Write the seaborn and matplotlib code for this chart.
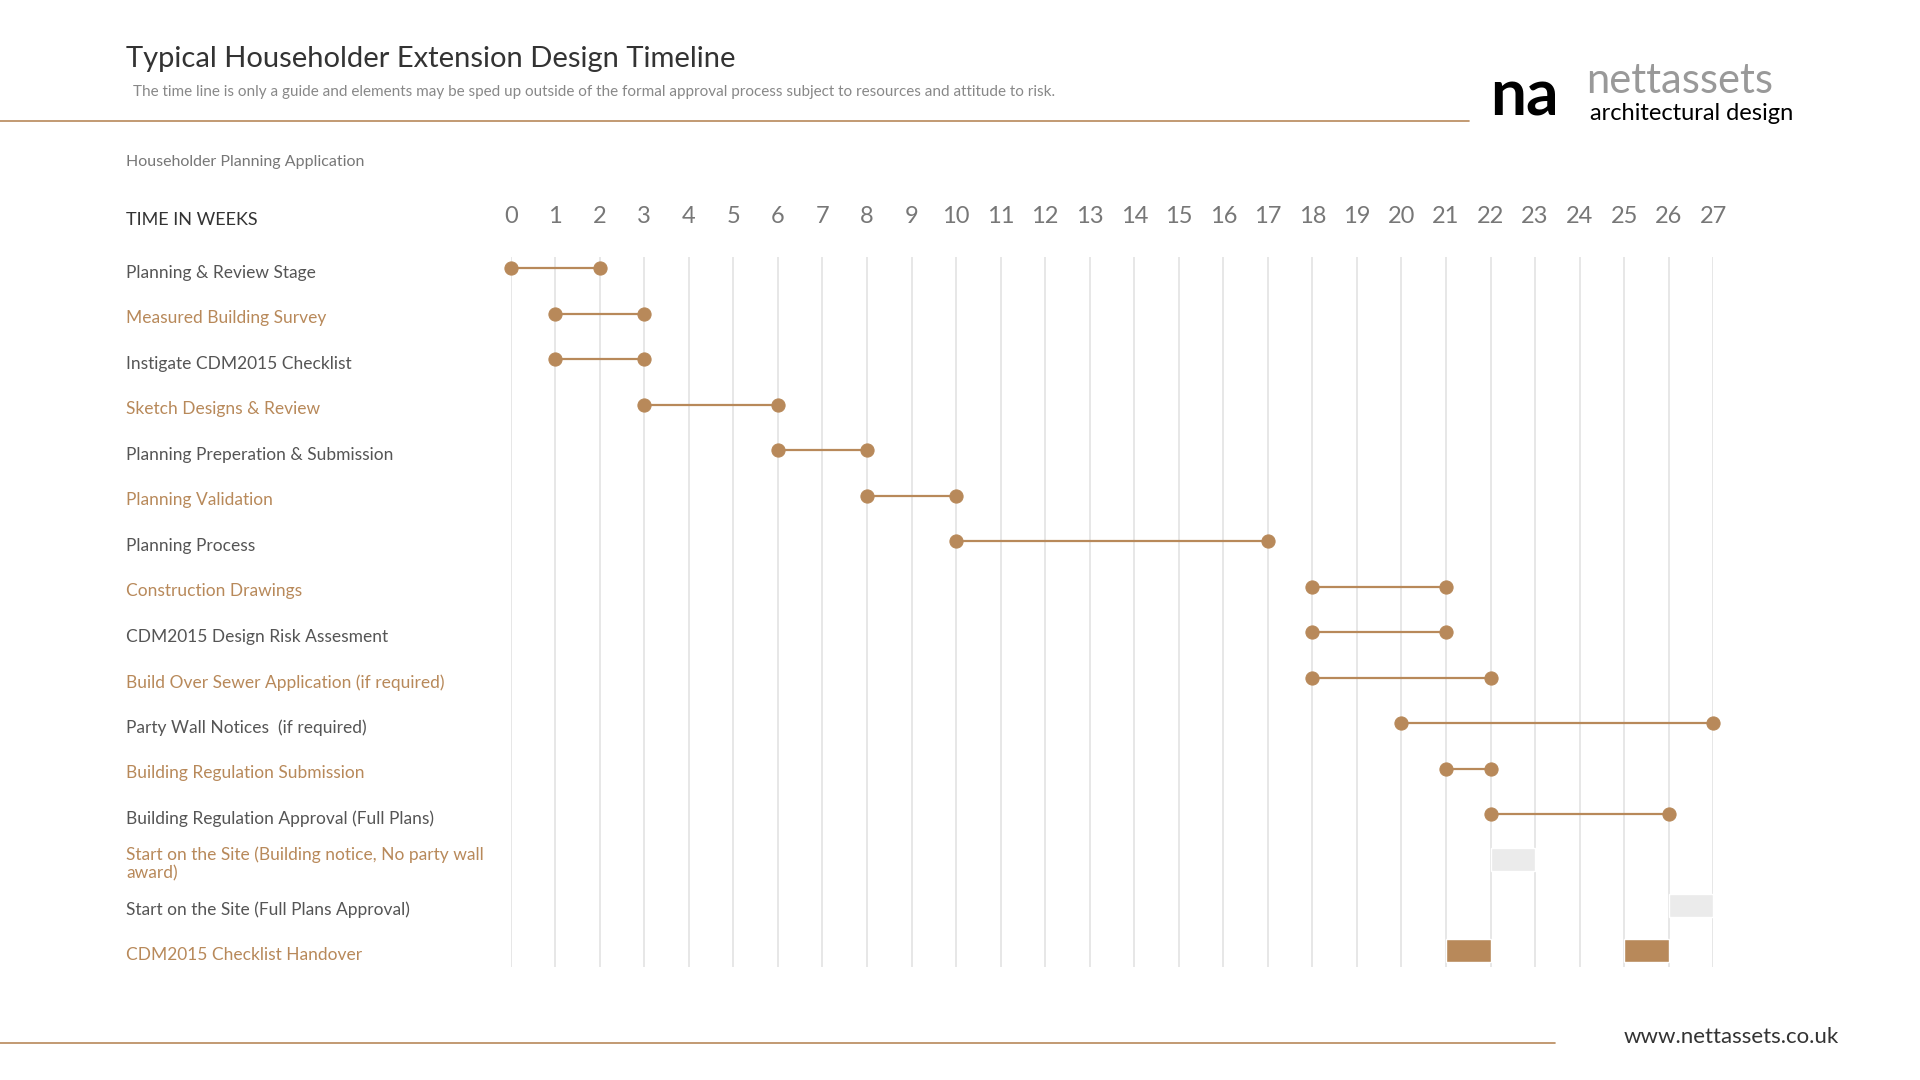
import numpy as np
import pandas as pd
import matplotlib.pyplot as plt
import matplotlib.transforms as mtransforms
import seaborn as sns

# --- data ---
tasks = ['Planning & Review Stage', 'Measured Building Survey', 'Instigate CDM2015 Checklist',
         'Sketch Designs & Review', 'Planning Preperation & Submission', 'Planning Validation',
         'Planning Process', 'Construction Drawings', 'CDM2015 Design Risk Assesment',
         'Build Over Sewer Application (if required)', 'Party Wall Notices  (if required)',
         'Building Regulation Submission', 'Building Regulation Approval (Full Plans)',
         'Start on the Site (Building notice, No party wall\naward)',
         'Start on the Site (Full Plans Approval)', 'CDM2015 Checklist Handover']
starts = [0, 1, 1, 3, 6, 8, 10, 18, 18, 18, 20, 21, 22, None, None, None]
ends = [2, 3, 3, 6, 8, 10, 17, 21, 21, 22, 27, 22, 26, None, None, None]
grey_rows = [13, 14]
grey_starts = [22, 26]
grey_ends = [23, 27]
handover_starts = [21, 25]
handover_ends = [22, 26]
weeks = list(range(28))

BROWN = '#b8895a'
GREY = '#555555'

sns.set_style('white')
plt.rcParams['font.family'] = ['Lato', 'DejaVu Sans']

fig = plt.figure(figsize=(19.2, 10.8), dpi=100)
ax = fig.add_axes([0.266, 0.105, 0.6263, 0.657])

for w in weeks:
    ax.axvline(w, color='#e3e3e3', lw=1.2, zorder=0)
    ax.text(w, -1.15, str(w), ha='center', va='center', fontsize=17, color='#777777')

seg = pd.DataFrame({'row': range(len(tasks)), 'start': starts, 'end': ends}).dropna()
ax.hlines(seg['row'], seg['start'], seg['end'], color=BROWN, lw=1.6, zorder=2)
pts = pd.concat([seg[['row', 'start']].rename(columns={'start': 'week'}),
                 seg[['row', 'end']].rename(columns={'end': 'week'})])
sns.scatterplot(data=pts, x='week', y='row', color=BROWN, s=90, edgecolor=BROWN,
                ax=ax, zorder=3, legend=False, clip_on=False)

ax.barh(grey_rows, np.subtract(grey_ends, grey_starts), left=grey_starts, height=0.5,
        color='#ebebeb', zorder=2)
ax.barh([15, 15], np.subtract(handover_ends, handover_starts), left=handover_starts,
        height=0.5, color=BROWN, zorder=2)
ax.set_xlim(0, 27)
ax.set_ylim(15.35, -0.25)
ax.axis('off')

trans = mtransforms.blended_transform_factory(fig.transFigure, ax.transData)
for i, t in enumerate(tasks):
    ax.text(0.0657, i + 0.1, t, transform=trans, ha='left', va='center', fontsize=12.5,
            color=BROWN if i % 2 else GREY, linespacing=1.15)
ax.text(0.0657, -1.07, 'TIME IN WEEKS', transform=trans, ha='left', va='center',
        fontsize=13, color='#333333')

# header / footer
fig.text(0.0657, 0.945, 'Typical Householder Extension Design Timeline', fontsize=21,
         color='#333333', va='center')
fig.text(0.0695, 0.915, 'The time line is only a guide and elements may be sped up outside of the '
         'formal approval process subject to resources and attitude to risk.',
         fontsize=11, color='#888888', va='center')
fig.text(0.0657, 0.85, 'Householder Planning Application', fontsize=11.5, color='#777777',
         va='center')
fig.add_artist(plt.Line2D([0, 0.765], [0.888, 0.888], color=BROWN, lw=1.2))
fig.add_artist(plt.Line2D([0, 0.81], [0.034, 0.034], color=BROWN, lw=1.2))
fig.text(0.958, 0.04, 'www.nettassets.co.uk', fontsize=16, color='#333333',
         ha='right', va='center')

# logo
fig.text(0.776, 0.91, 'na', fontsize=46, color='black', va='center', fontweight='bold')
fig.text(0.826, 0.925, 'nettassets', fontsize=30, color='#999999', va='center')
fig.text(0.828, 0.895, 'architectural design', fontsize=17, color='black', va='center')

fig.savefig('out.png', dpi=100, facecolor='white')
